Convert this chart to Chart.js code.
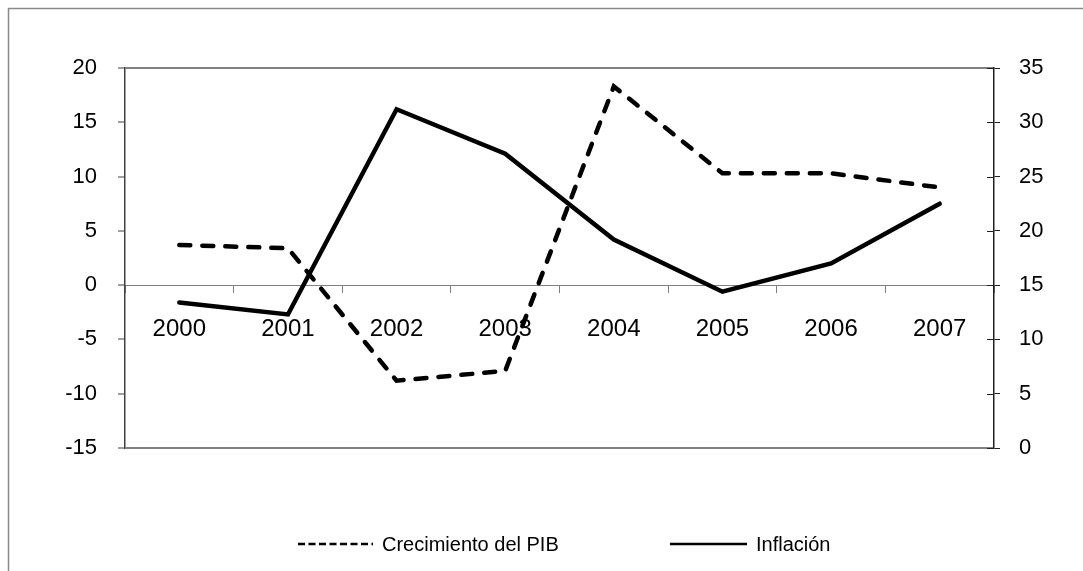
<!DOCTYPE html>
<html>
<head>
<meta charset="utf-8">
<script src="https://cdn.jsdelivr.net/npm/chart.js@4.4.1/dist/chart.umd.min.js"></script>
<style>
  html, body { margin: 0; padding: 0; background: #fff; }
  #wrap { width: 1083px; height: 571px; position: relative; }
</style>
</head>
<body>
<div id="wrap"><canvas id="c" width="1083" height="571"></canvas></div>
<script>
// ---- data ----
const years = ['2000', '2001', '2002', '2003', '2004', '2005', '2006', '2007'];
const crecimientoPIB = [3.7, 3.4, -8.8, -7.9, 18.3, 10.3, 10.3, 9.0];
const inflacion = [13.4, 12.3, 31.2, 27.1, 19.2, 14.4, 17.0, 22.5];
const seriesNames = ['Crecimiento del PIB', 'Inflación'];
const leftAxis = { min: -15, max: 20, step: 5 };
const rightAxis = { min: 0, max: 35, step: 5 };

const FONT = '"Liberation Sans", Arial, sans-serif';

const framePlugin = {
  id: 'frame',
  beforeDraw(chart) {
    const c = chart.ctx;
    c.save();
    c.fillStyle = '#fff';
    c.fillRect(0, 0, chart.width, chart.height);
    c.strokeStyle = '#8a8a8a';
    c.lineWidth = 1.5;
    c.strokeRect(8.5, 8.5, chart.width + 40, chart.height + 40);
    c.restore();
  },
  afterDraw(chart) {
    // inward half of the right-axis tick marks
    const c = chart.ctx;
    const s = chart.scales.y1;
    c.save();
    c.strokeStyle = '#202020';
    c.lineWidth = 1;
    s.ticks.forEach(t => {
      const py = Math.round(s.getPixelForValue(t.value)) + 0.5;
      c.beginPath();
      c.moveTo(s.left - 7, py);
      c.lineTo(s.left, py);
      c.stroke();
    });
    c.restore();
  }
};

const legendPlugin = {
  id: 'customLegend',
  afterDraw(chart, args, opts) {
    const c = chart.ctx;
    c.save();
    c.font = '20px ' + FONT;
    c.textBaseline = 'middle';
    c.fillStyle = '#000';
    opts.items.forEach((it, i) => {
      const ds = chart.data.datasets[i];
      c.strokeStyle = '#000';
      c.lineWidth = 2.5;
      c.setLineDash(ds.borderDash && ds.borderDash.length ? [7, 3.5] : []);
      c.beginPath();
      c.moveTo(it.x0, opts.y);
      c.lineTo(it.x1, opts.y);
      c.stroke();
      c.setLineDash([]);
      c.fillText(ds.label, it.tx, opts.y + 1);
    });
    c.restore();
  }
};

const chart = new Chart(document.getElementById('c'), {
  type: 'line',
  data: {
    labels: years,
    datasets: [
      {
        label: seriesNames[0],
        data: crecimientoPIB,
        yAxisID: 'y',
        borderColor: '#000',
        borderWidth: 4.5,
        borderDash: [11, 12],
        borderCapStyle: 'round',
        pointRadius: 0,
        tension: 0,
        fill: false
      },
      {
        label: seriesNames[1],
        data: inflacion,
        yAxisID: 'y1',
        borderColor: '#000',
        borderWidth: 4.5,
        borderCapStyle: 'round',
        pointRadius: 0,
        tension: 0,
        fill: false
      }
    ]
  },
  options: {
    responsive: false,
    animation: false,
    devicePixelRatio: 1,
    layout: { padding: { top: 68, bottom: 123, left: 0, right: 0 } },
    plugins: {
      legend: { display: false },
      tooltip: { enabled: false },
      customLegend: {
        y: 544,
        items: [
          { x0: 298, x1: 373, tx: 382 },
          { x0: 670, x1: 747, tx: 756 }
        ]
      }
    },
    scales: {
      x: {
        type: 'category',
        offset: true,
        position: { y: 0 },
        grid: {
          display: true,
          offset: true,
          drawOnChartArea: false,
          drawTicks: true,
          tickLength: 7,
          tickColor: '#808080',
          tickWidth: 1
        },
        border: { display: true, color: '#808080', width: 1 },
        ticks: {
          color: '#000',
          font: { family: FONT, size: 24 },
          padding: 23,
          maxRotation: 0,
          autoSkip: false
        }
      },
      y: {
        position: 'left',
        min: leftAxis.min,
        max: leftAxis.max,
        afterFit(scale) { scale.width = 125; },
        grid: {
          drawOnChartArea: true,
          color: ctx => (ctx.tick && (ctx.tick.value === leftAxis.max || ctx.tick.value === leftAxis.min)) ? '#808080' : 'rgba(0,0,0,0)',
          lineWidth: 2,
          drawTicks: true,
          tickLength: 7,
          tickColor: '#404040',
          tickWidth: 1
        },
        border: { display: true, color: '#404040', width: 1.5 },
        ticks: {
          stepSize: leftAxis.step,
          color: '#000',
          font: { family: FONT, size: 22 },
          padding: 21
        }
      },
      y1: {
        position: 'right',
        min: rightAxis.min,
        max: rightAxis.max,
        afterFit(scale) { scale.width = 89; },
        grid: {
          drawOnChartArea: false,
          drawTicks: true,
          tickLength: 6,
          tickColor: '#202020',
          tickWidth: 1
        },
        border: { display: true, color: '#202020', width: 1.5 },
        ticks: {
          stepSize: rightAxis.step,
          color: '#000',
          font: { family: FONT, size: 22 },
          padding: 19
        }
      }
    }
  },
  plugins: [framePlugin, legendPlugin]
});
</script>
</body>
</html>
